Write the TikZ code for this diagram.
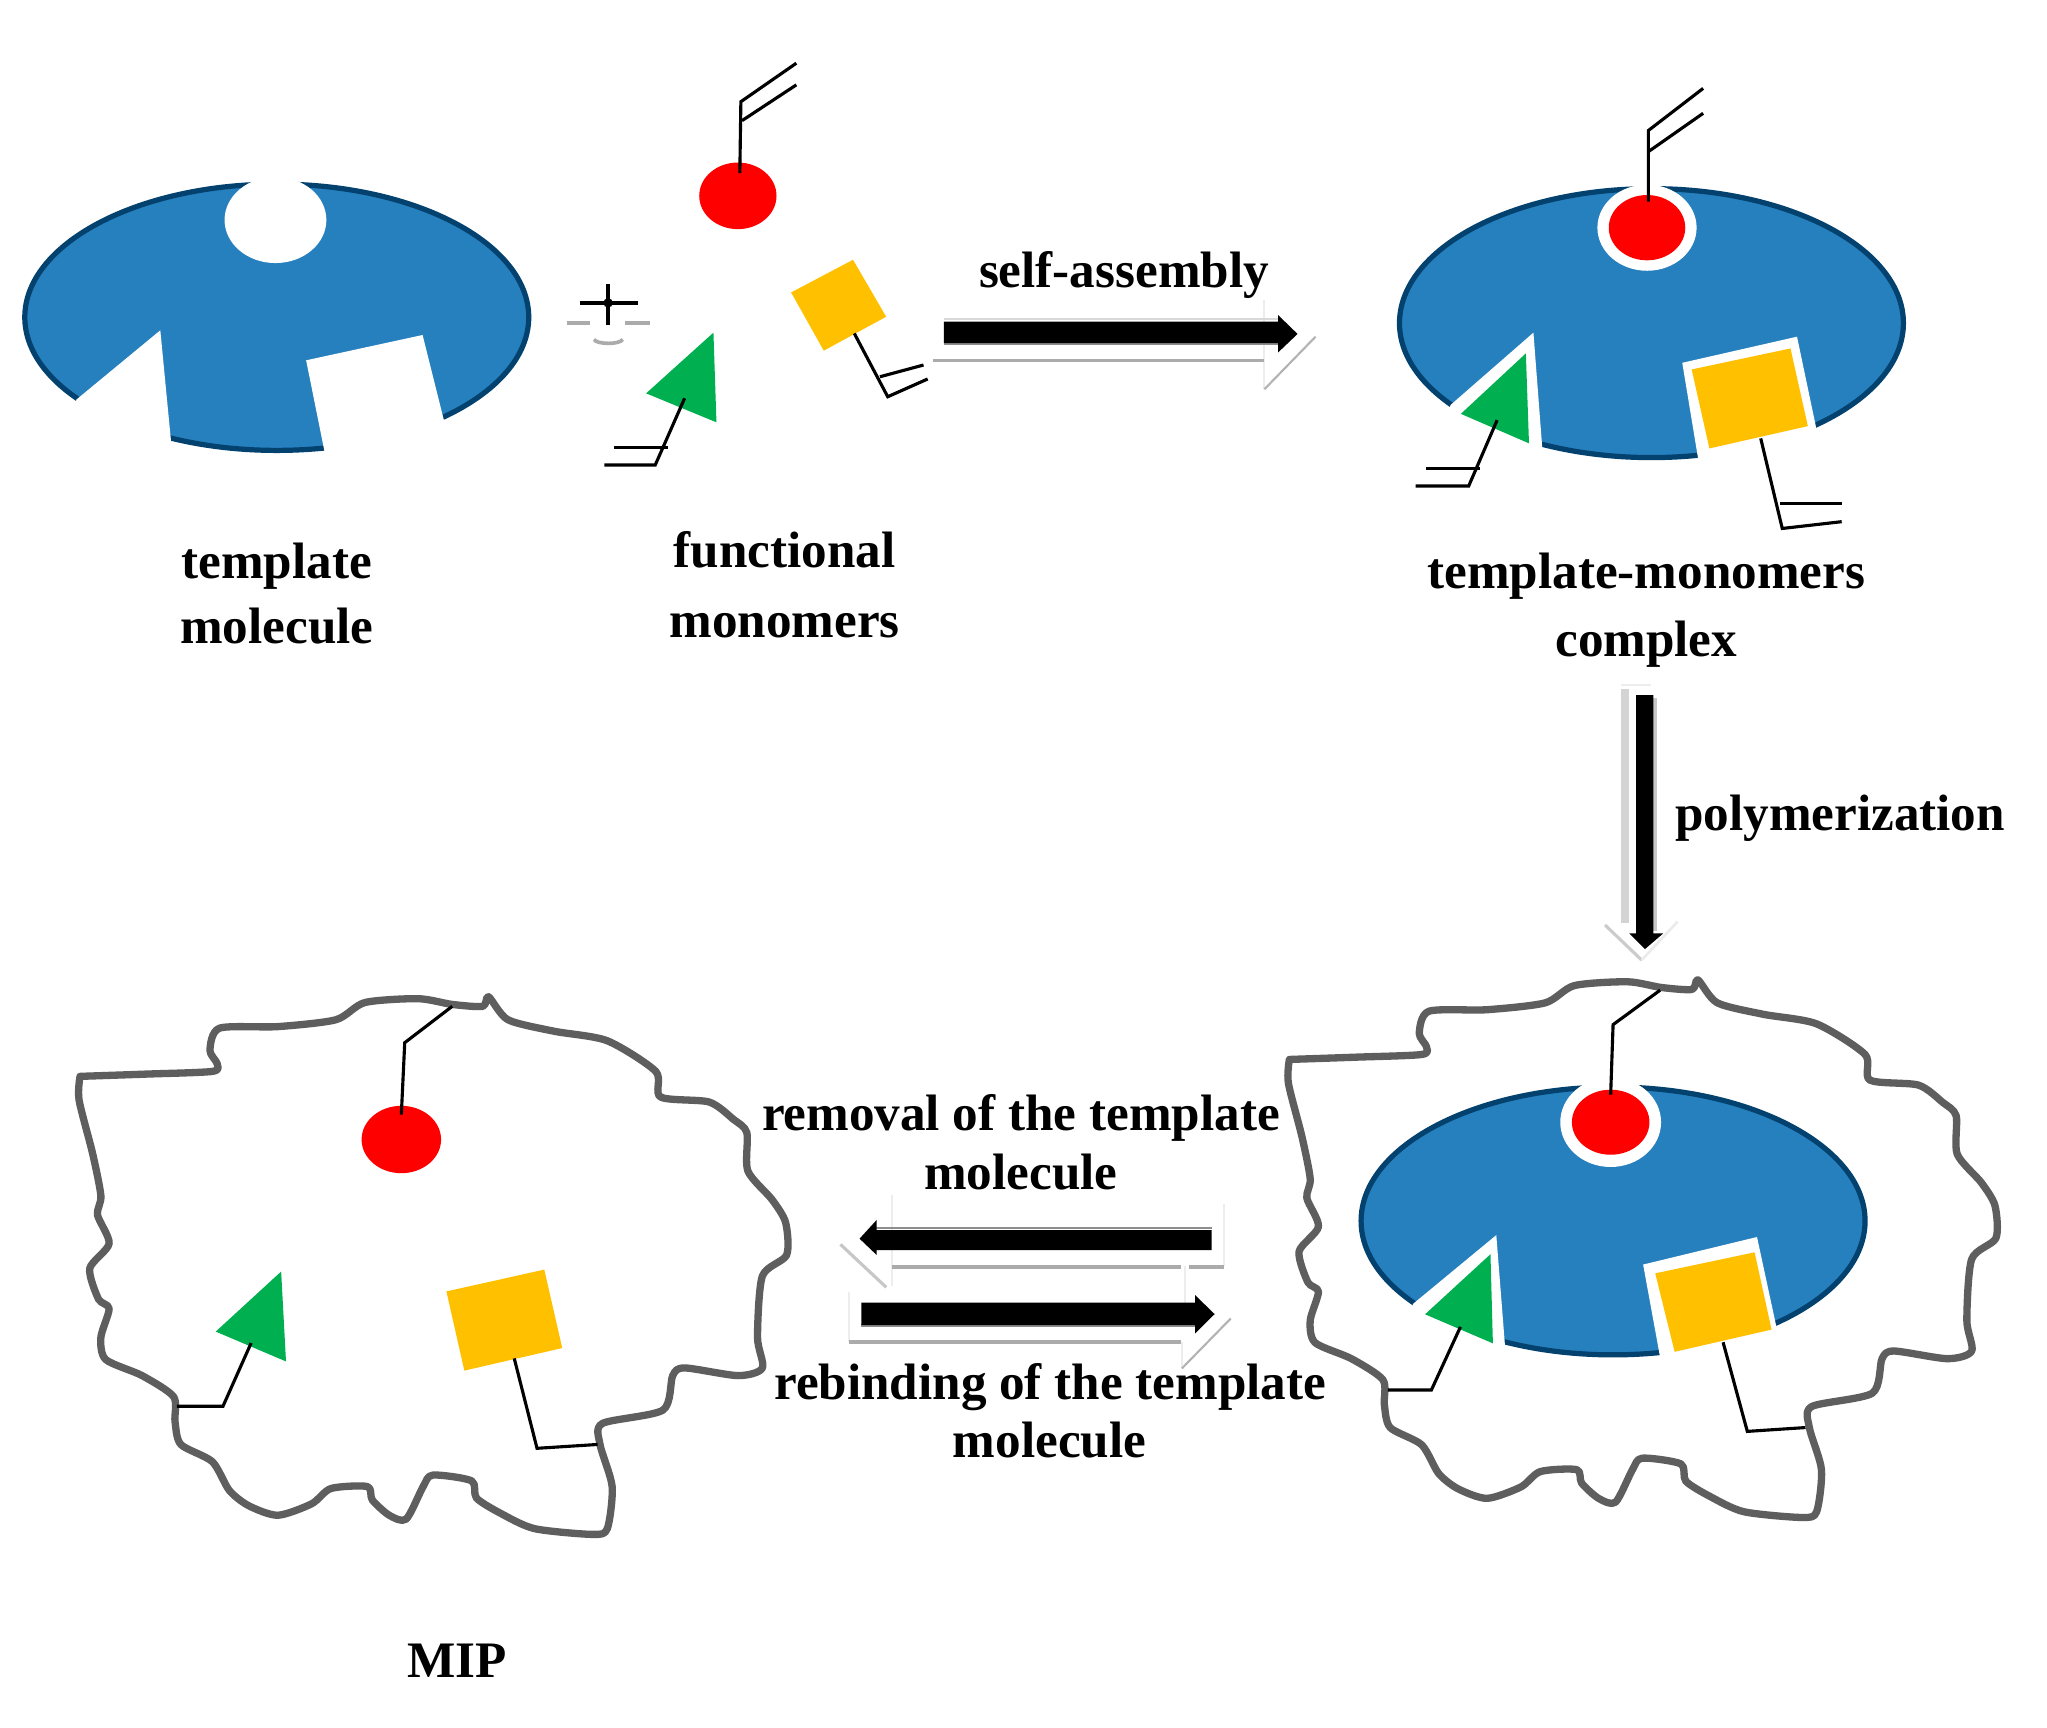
\documentclass[tikz,border=0pt]{standalone}
\usepackage{fontspec}
\setmainfont{Liberation Serif}
\definecolor{blobfill}{HTML}{2680BE}
\definecolor{blobedge}{HTML}{03426F}
\definecolor{yel}{HTML}{FFC000}
\definecolor{grn}{HTML}{00B050}
\definecolor{rd}{HTML}{FF0000}
\definecolor{outl}{HTML}{5E5E5E}
\tikzset{
  blob/.style={fill=blobfill,draw=blobedge,line width=2pt},
  blank/.style={fill=white,draw=none},
  stem/.style={draw=black,line width=1.2pt,line join=miter},
  crust/.style={draw=outl,line width=2.8pt,line join=round,line cap=round},
  solidarrow/.style={fill=black,draw=none},
  ghostbar/.style={draw=black!33,line width=1.4pt},
  ghostdiag/.style={draw=black!30,line width=0.8pt},
  faint/.style={draw=black!7,line width=0.8pt},
  shade/.style={draw=black!45,line width=1.1pt},
  lbl/.style={font=\bfseries\fontsize{19.6}{24}\selectfont,anchor=base,inner sep=0pt,text=black},
  z4/.style={shift={(38.3,743)},xscale=.3712,yscale=.2931},
  z5/.style={shift={(972.8,727.7)},xscale=.3712,yscale=.2931}
}
\newcommand{\crustpath}{
  \draw[crust] plot[smooth,tension=0.45] coordinates {(62,278) (200,272) (335,265) (345,245) (330,210) (350,152) (470,148) (590,130) (650,85) (760,75) (830,90) (893,95) (905,70) (945,130) (1040,160) (1150,185) (1250,265) (1260,332) (1360,345) (1410,390) (1438,425) (1440,525) (1490,600) (1518,660) (1520,745) (1470,800) (1460,960) (1470,1040) (1420,1060) (1310,1040) (1285,1060) (1265,1150) (1140,1185) (1135,1240) (1160,1350) (1150,1460) (1120,1475) (1000,1460) (930,1420) (880,1380) (870,1335) (790,1320) (770,1350) (735,1435) (700,1425) (665,1385) (655,1350) (580,1355) (540,1395) (470,1425) (410,1400) (370,1360) (335,1285) (270,1240) (258,1180) (255,1115) (190,1060) (115,1018) (105,960) (122,885) (100,860) (82,780) (122,715) (98,640) (105,590) (88,480) (60,340) (62,278)};
}
\begin{document}
\begin{tikzpicture}[x=0.5pt,y=-0.5pt]
\useasboundingbox (0,0) rectangle (1568,1323);
\fill[white] (0,0) rectangle (1568,1323);

% template molecule
\path[blob] (212,243) ellipse [x radius=193,y radius=102];
\fill[blank] (58.6,306) -- (122.8,253) -- (131,338) -- (131,365) -- (40,365) -- cycle;
\fill[blank] (234.5,276) -- (323.7,256.6) -- (340,321.7) -- (360,365) -- (250,365) -- (248.6,346) -- cycle;
\fill[blank] (211,168.5) ellipse [x radius=39,y radius=33];

% free monomers
\fill[rd] (565.2,150) ellipse [x radius=29.6,y radius=25.5];
\fill[yel] (653.4,199) -- (606,224) -- (631,268.6) -- (678.8,242.6) -- cycle;
\fill[grn] (546.5,254.8) -- (494.9,301.3) -- (548.8,323.5) -- cycle;
\draw[stem] (566.7,132.6) -- (567.5,77.9) -- (610,48.4);
\draw[stem] (568.4,92.4) -- (610,65);
\draw[stem] (654.4,255.4) -- (680,303.9) -- (710.6,290.3);
\draw[stem] (674,288.6) -- (707.4,279.6);
\draw[stem] (524.4,305.1) -- (501.9,356.2) -- (463,356.2);
\draw[stem] (511.3,342.7) -- (470.5,342.7);

% plus sign with its shadow
\draw[line width=1.3pt] (444,232) -- (488.8,232);
\draw[line width=1.3pt] (465.8,217.6) -- (465.8,249);
\fill (465.8,232) circle (3.6);
\draw[ghostbar] (434,247.6) -- (451.7,247.6);
\draw[ghostbar] (479,247.6) -- (498,247.6);
\draw[ghostbar] (455,260) .. controls (457,264) and (475,264) .. (477,260);

% self-assembly arrow
\draw[faint] (968.5,230) -- (968.5,298);
\draw[ghostbar] (714.5,276.2) -- (968,276.2);
\draw[ghostdiag] (968.5,298.2) -- (1007.7,257.9);
\draw[draw=black!15,line width=0.9pt] (723,244.4) -- (979,244.4);
\draw[shade] (723,263.3) -- (979,263.3);
\fill[solidarrow] (723,246.4) -- (979,246.4) -- (979,241.3) -- (993.9,255.8) -- (979,270) -- (979,262.8) -- (723,262.8) -- cycle;

% complex
\path[blob] (1265,247.5) ellipse [x radius=193,y radius=103];
\fill[blank] (1261.6,174.4) ellipse [x radius=38,y radius=33];
\fill[blank] (1111.1,310.2) -- (1174.6,254.8) -- (1181.5,345) -- (1183,370) -- (1095,370) -- cycle;
\fill[blank] (1288.6,277.9) -- (1376.5,257.9) -- (1391,326.9) -- (1391,365) -- (1303,365) -- cycle;
\fill[rd] (1261.6,174.4) ellipse [x radius=29.3,y radius=25];
\fill[yel] (1371.5,266.9) -- (1295.8,283) -- (1309.4,343.5) -- (1384.8,326.4) -- cycle;
\fill[grn] (1168.8,270.7) -- (1119,317) -- (1171.2,339.6) -- cycle;
\draw[stem] (1262.6,154.5) -- (1262.6,100) -- (1304.6,67.7);
\draw[stem] (1262.6,116.2) -- (1304.6,86.8);
\draw[stem] (1146.8,321.8) -- (1125,372.3) -- (1084.3,372.3);
\draw[stem] (1133.7,358.8) -- (1092,358.8);
\draw[stem] (1348.7,335.8) -- (1365.2,404.8) -- (1410.7,399.6);
\draw[stem] (1363.3,385.6) -- (1410.7,385.6);

% polymerization arrow
\draw[faint] (1242,525) -- (1265,525);
\draw[draw=black!17,line width=3pt] (1245,528) -- (1245,707);
\draw[draw=black!22,line width=1.5pt] (1268,535) -- (1268,713);
\draw[draw=black!20,line width=1.2pt] (1229.5,708.6) -- (1257.5,735.4);
\draw[draw=black!8,line width=1pt] (1257.5,735.4) -- (1285,706);
\fill[solidarrow] (1253.2,532.4) -- (1266.5,532.4) -- (1266.5,715) -- (1274,715) -- (1260,727) -- (1248,715) -- (1253.2,715) -- cycle;

% removal arrow
\draw[faint] (683.3,915) -- (683.3,985);
\draw[faint] (937.5,922) -- (937.5,970);
\draw[faint] (907.5,970) -- (907.5,1000);
\draw[ghostbar] (683.3,970.3) -- (904.7,970.3);
\draw[ghostbar] (910.5,970.3) -- (937.5,970.3);
\draw[draw=black!22,line width=1.2pt] (643.8,953.2) -- (678.9,986.1);
\draw[shade] (671,940.6) -- (928,940.6);
\fill[solidarrow] (928,942.2) -- (671.5,942.2) -- (671.5,934.5) -- (658.4,948.8) -- (671.5,961.3) -- (671.5,957.5) -- (928,957.5) -- cycle;

% rebinding arrow
\draw[faint] (650.2,990) -- (650.2,1028);
\draw[faint] (905.3,1028) -- (905.3,1048);
\draw[ghostbar] (650.2,1027.8) -- (904.7,1027.8);
\draw[ghostdiag] (905.3,1048.2) -- (942.8,1009.9);
\draw[shade] (659.8,1015.6) -- (916,1015.6);
\fill[solidarrow] (659.8,997.7) -- (915.4,997.7) -- (915.4,992) -- (930.4,1006.6) -- (915.4,1021.4) -- (915.4,1015) -- (659.8,1015) -- cycle;

% MIP (left)
\begin{scope}[z4]
  \fill[rd] (725,443) ellipse [x radius=82,y radius=88];
  \fill[grn] (477,788) -- (342,945) -- (487,1023) -- cycle;
  \fill[yel] (1020,783) -- (818,840) -- (855,1047) -- (1057,988) -- cycle;
  \crustpath
  \draw[stem] (725,378) -- (732,190) -- (830,95);
  \draw[stem] (415,975) -- (357,1140) -- (262,1140);
  \draw[stem] (958,1015) -- (1005,1250) -- (1130,1240);
\end{scope}

% polymer with template (right)
\begin{scope}[z5]
  \path[blob] (708,708) ellipse [x radius=520,y radius=350];
  \fill[blank] (703,450) ellipse [x radius=104,y radius=117];
  \fill[blank] (295,925) -- (467,745) -- (485,1035) -- (488,1085) -- (270,1085) -- cycle;
  \fill[blank] (770,822) -- (1005,750) -- (1045,985) -- (1045,1085) -- (808,1085) -- cycle;
  \fill[rd] (703,450) ellipse [x radius=80,y radius=85];
  \fill[grn] (455,795) -- (320,952) -- (460,1028) -- cycle;
  \fill[yel] (1000,790) -- (795,845) -- (835,1050) -- (1035,992) -- cycle;
  \begin{scope}[shift={(-22,8)}]
    \crustpath
  \end{scope}
  \draw[stem] (703,378) -- (708,195) -- (805,105);
  \draw[stem] (393,985) -- (333,1150) -- (243,1150);
  \draw[stem] (935,1025) -- (985,1258) -- (1105,1248);
\end{scope}

% labels
\node[lbl] (t1) at (212,443) {template};
\node[lbl] (t2) at (212,493) {molecule};
\node[lbl] (f1) at (601,435) {functional};
\node[lbl] (f2) at (601,488) {monomers};
\node[lbl] (c1) at (1261,451) {template-monomers};
\node[lbl] (c2) at (1261,503) {complex};
\node[lbl] (sa) at (861,220.6) {self-assembly};
\node[lbl] (po) at (1409.5,636) {polymerization};
\node[lbl] (r1) at (782,866) {removal of the template};
\node[lbl] (r2) at (782,911) {molecule};
\node[lbl] (b1) at (804.5,1072) {rebinding of the template};
\node[lbl] (b2) at (804,1116.3) {molecule};
\node[lbl] (mip) at (350,1285) {MIP};
\end{tikzpicture}
\end{document}
